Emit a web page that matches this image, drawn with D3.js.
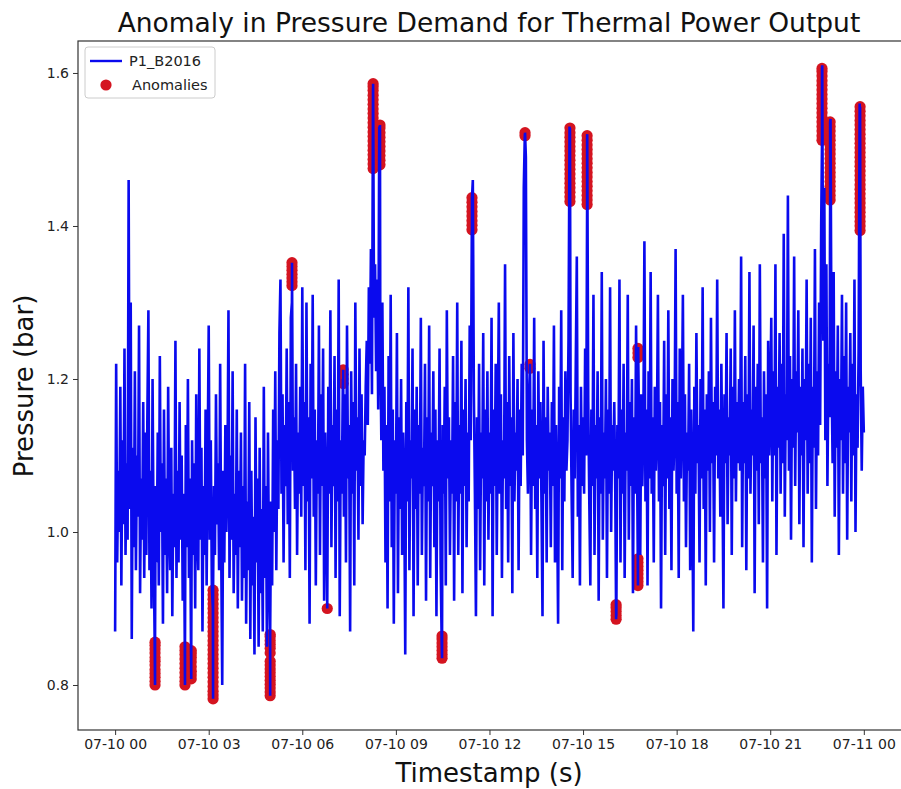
<!DOCTYPE html>
<html><head><meta charset="utf-8">
<script src="https://cdn.jsdelivr.net/npm/d3@7"></script>
<style>body{margin:0;background:#fff} svg{display:block}</style>
</head><body>
<svg id="c" width="901" height="789"></svg>
<script>
// ---- data ----
const title = "Anomaly in Pressure Demand for Thermal Power Output";
const xLabel = "Timestamp (s)";
const yLabel = "Pressure (bar)";
const seriesName = "P1_B2016";
const anomalyName = "Anomalies";
const startTime = "2024-07-10T00:00:00Z";
const stepMinutes = 2;
// pressure readings (bar), one row per hour, 2-minute sampling
const pressure = [
 0.87,1.22,0.96,1.08,1.00,1.19,0.93,1.12,1.01,1.24,0.97,1.09,0.99,1.46,1.03,1.30,0.86,1.11,0.98,1.21,0.95,1.10,1.02,1.27,0.92,1.07,0.99,1.17,0.94,1.13,
 0.97,1.15,1.29,0.95,1.08,0.90,1.20,0.99,0.86,1.06,0.96,1.13,0.93,1.23,1.00,1.09,0.88,1.16,0.97,1.07,0.92,1.19,1.01,0.95,1.11,0.89,1.05,0.98,1.25,0.94,
 1.08,0.96,1.17,0.99,1.10,0.91,1.05,0.85,1.14,0.98,1.20,0.94,1.07,0.84,1.12,0.97,1.09,0.90,1.18,1.00,0.95,1.24,0.99,1.11,0.87,1.06,0.97,1.16,0.93,1.10,
 1.27,0.99,1.12,0.93,0.90,1.06,0.97,1.18,1.01,1.09,0.95,1.22,0.98,0.80,1.08,0.96,1.14,1.00,1.07,1.29,0.94,1.10,0.99,1.21,0.92,1.05,0.97,1.16,0.90,1.08,
 0.98,1.13,0.91,1.06,0.94,1.22,0.88,1.04,0.95,1.17,0.86,1.08,0.93,1.02,0.84,1.15,0.96,1.07,0.85,1.11,0.92,1.03,0.87,1.19,0.94,1.06,0.85,1.13,0.95,0.87,
 1.04,0.93,1.16,1.00,1.21,0.95,1.12,1.03,1.26,1.33,1.05,1.18,0.96,1.14,1.06,1.24,1.01,1.17,0.94,1.28,1.30,1.08,1.15,1.03,1.22,0.97,1.13,1.05,1.19,1.02,
 1.32,1.06,1.17,0.95,1.30,1.04,1.15,0.88,1.22,1.07,1.31,1.02,1.16,0.93,1.12,1.05,1.27,0.97,1.18,1.06,1.24,0.91,1.13,1.04,0.90,1.19,1.05,1.29,0.98,1.14,
 1.06,1.23,0.94,1.16,1.04,1.33,0.89,1.12,1.05,1.20,1.02,1.18,0.96,1.27,1.07,1.14,0.87,1.21,1.05,1.17,0.93,1.30,1.08,1.15,0.99,1.24,1.06,1.18,1.01,1.12,
 1.10,1.19,1.25,1.14,1.32,1.22,1.37,1.18,1.58,1.28,1.35,1.21,1.33,1.16,1.53,1.26,1.12,1.30,1.08,1.19,0.96,1.14,0.90,1.23,1.04,1.31,0.98,1.16,0.88,1.12,
 1.05,1.26,0.92,1.15,1.03,1.20,0.97,1.13,1.06,0.84,1.17,1.04,1.32,0.95,1.12,1.07,1.24,0.89,1.16,1.03,1.19,0.93,1.14,1.05,1.28,0.97,1.11,1.06,1.22,0.91,
 1.15,1.04,1.27,0.94,1.13,1.06,1.21,0.98,1.16,0.89,1.12,1.04,1.24,0.96,0.86,1.14,1.05,1.19,0.93,1.29,1.07,1.15,0.97,1.12,1.05,1.23,0.91,1.17,1.04,1.30,
 0.97,1.14,1.05,1.25,0.92,1.16,1.06,1.20,0.98,1.13,1.04,1.27,1.12,1.39,1.46,1.18,1.05,0.89,1.15,1.03,1.22,0.95,1.13,1.07,1.26,0.93,1.16,1.04,1.21,0.99,
 1.13,1.05,1.28,0.89,1.16,1.06,1.22,0.97,1.14,1.30,1.05,1.18,0.94,1.12,1.07,1.35,1.03,1.17,0.96,1.23,1.06,1.15,0.92,1.26,1.04,1.13,1.08,1.20,0.95,1.16,
 1.06,1.22,1.10,1.45,1.52,1.49,1.12,1.05,1.18,1.22,0.97,1.16,1.06,1.28,1.03,1.14,0.94,1.21,1.07,1.17,1.04,0.89,1.25,1.05,1.15,0.96,1.19,1.08,1.13,0.98,
 1.17,1.06,1.27,0.96,1.14,1.05,0.88,1.19,1.07,1.29,0.95,1.15,1.04,1.21,1.08,1.12,1.25,1.53,1.18,1.05,0.94,1.16,1.07,1.22,1.36,1.02,1.14,0.93,1.19,1.06,
 1.15,1.05,1.24,1.10,1.52,1.17,1.04,0.93,1.16,1.06,1.31,0.97,1.14,1.07,1.21,0.91,1.15,1.05,1.34,0.99,1.13,1.07,1.20,0.94,1.16,1.05,1.32,1.00,1.14,1.08,
 1.17,1.05,0.89,1.14,1.07,1.33,0.96,1.16,1.05,1.22,0.94,1.13,1.08,1.31,0.99,1.17,1.06,1.20,0.92,1.15,1.05,1.27,1.08,1.24,1.12,0.97,1.18,1.06,1.14,1.38,
 1.04,1.16,0.93,1.21,1.07,1.34,1.05,1.15,0.96,1.19,1.08,1.13,1.31,1.04,1.17,0.90,1.14,1.06,1.25,0.97,1.18,1.07,1.29,1.03,1.15,0.95,1.20,1.08,1.13,1.37,
 1.05,1.17,0.94,1.24,1.07,1.15,1.31,1.04,1.18,0.98,1.13,1.08,1.22,0.95,1.16,1.06,0.87,1.19,1.05,1.26,1.09,1.14,0.96,1.20,1.07,1.32,1.03,1.16,0.93,1.18,
 1.08,1.21,1.00,1.28,1.09,1.17,0.96,1.19,1.10,1.33,1.07,1.16,1.02,1.22,1.08,0.90,1.18,1.09,1.26,1.01,1.15,1.10,1.24,0.97,1.19,1.07,1.29,1.04,1.17,1.09,
 1.20,1.08,1.36,0.98,1.17,1.09,1.23,0.95,1.18,1.07,1.34,1.05,1.16,1.10,1.27,0.92,1.19,1.08,1.22,1.01,1.35,1.09,1.15,0.96,1.21,1.07,1.18,0.90,1.25,1.10,
 1.16,1.28,1.04,1.21,1.10,1.35,0.97,1.19,1.11,1.26,1.05,1.22,1.09,1.39,1.02,1.18,1.12,1.44,1.08,1.23,0.99,1.20,1.11,1.36,1.06,1.21,1.13,1.29,1.01,1.19,
 1.10,1.24,0.98,1.20,1.12,1.33,1.05,1.22,1.09,1.28,0.96,1.19,1.11,1.37,1.03,1.21,1.10,1.30,1.14,1.40,1.61,1.25,1.45,1.12,1.35,1.06,1.22,1.15,1.54,1.20,
 1.09,1.34,1.02,1.21,1.11,1.27,0.97,1.20,1.12,1.31,1.05,1.23,1.09,1.30,0.99,1.19,1.13,1.26,1.04,1.22,1.10,1.33,1.00,1.18,1.11,1.24,1.56,1.21,1.08,1.19,
 1.13
];
// anomaly clusters: hours after start, and the flagged values in each
const anomalyClusterHours = [1.28, 2.24, 2.44, 3.14, 4.97, 5.67, 6.80, 7.31, 8.27, 8.49, 10.48, 11.44,
  13.14, 13.30, 14.58, 15.13, 16.06, 16.76, 16.76, 22.66, 22.92, 23.88];
const anomalyClusterValues = [
 [0.800,0.805,0.810,0.815,0.820,0.826,0.831,0.836,0.842,0.847,0.852,0.856],
 [0.800,0.805,0.810,0.816,0.822,0.828,0.834,0.840,0.845,0.850],
 [0.808,0.813,0.818,0.824,0.830,0.836,0.841,0.845],
 [0.782,0.787,0.792,0.798,0.804,0.810,0.816,0.822,0.828,0.834,0.840,0.846,0.852,0.858,0.864,0.870,0.876,0.882,0.888,0.894,0.900,0.906,0.912,0.918,0.924],
 [0.786,0.791,0.796,0.801,0.806,0.811,0.816,0.821,0.826,0.831,0.842,0.848,0.853,0.858,0.863,0.866],
 [1.322,1.327,1.332,1.337,1.342,1.347,1.352],
 [0.900],
 [1.194,1.200,1.206,1.212],
 [1.475,1.481,1.487,1.493,1.499,1.505,1.511,1.517,1.523,1.529,1.535,1.541,1.547,1.553,1.559,1.565,1.571,1.577,1.582,1.586],
 [1.480,1.486,1.492,1.498,1.504,1.510,1.516,1.522,1.528,1.532],
 [0.835,0.840,0.845,0.850,0.855,0.860,0.864],
 [1.395,1.401,1.407,1.413,1.419,1.425,1.431,1.437],
 [1.518,1.522],
 [1.214,1.219],
 [1.432,1.438,1.444,1.450,1.456,1.462,1.468,1.474,1.480,1.486,1.492,1.498,1.504,1.510,1.516,1.522,1.528],
 [1.428,1.434,1.440,1.446,1.452,1.458,1.464,1.470,1.476,1.482,1.488,1.494,1.500,1.506,1.512,1.518],
 [0.886,0.891,0.896,0.901,0.905],
 [0.930,0.935,0.940,0.945,0.950,0.955,0.960,0.965],
 [1.228,1.234,1.240],
 [1.512,1.518,1.524,1.530,1.536,1.542,1.548,1.554,1.560,1.566,1.572,1.578,1.584,1.590,1.596,1.602,1.606],
 [1.434,1.440,1.446,1.452,1.458,1.464,1.470,1.476,1.482,1.488,1.494,1.500,1.506,1.512,1.518,1.524,1.530,1.536],
 [1.394,1.400,1.406,1.412,1.418,1.424,1.430,1.436,1.442,1.448,1.454,1.460,1.466,1.472,1.478,1.484,1.490,1.496,1.502,1.508,1.514,1.520,1.526,1.532,1.538,1.544,1.550,1.556]
];
const xTickHours = [0,3,6,9,12,15,18,21,24];
const yTicks = [0.8,1.0,1.2,1.4,1.6];

// ---- build ----
const t0 = Date.parse(startTime);
const H = 3600e3;
const series = pressure.map((v,i)=>({t:new Date(t0 + i*stepMinutes*60e3), v}));
const anomalies = anomalyClusterHours.flatMap((h,c)=>anomalyClusterValues[c].map(v=>({t:new Date(t0 + h*H), v})));
const linePts = series.concat(anomalies).map((d,i)=>({...d,i}))
  .sort((a,b)=>(a.t-b.t)||(a.i-b.i));

const L=78, R=902, T=41, B=730;
const x = d3.scaleUtc().domain([new Date(t0-1.19*H), new Date(t0+25.224*H)]).range([L,R]);
const y = d3.scaleLinear().domain([0.7412,1.6418]).range([B,T]);

const svg = d3.select("#c");
const font = "DejaVu Sans, sans-serif";
const blue = "#0a0aee", red = "#d41420";

svg.append("defs").append("clipPath").attr("id","clip")
  .append("rect").attr("x",L).attr("y",T).attr("width",R-L).attr("height",B-T);

const plot = svg.append("g").attr("clip-path","url(#clip)");
plot.selectAll("circle.an").data(anomalies).join("circle")
  .attr("class","an").attr("cx",d=>x(d.t)).attr("cy",d=>y(d.v)).attr("r",5.6)
  .attr("fill",red);
plot.append("path").datum(linePts)
  .attr("d",d3.line().x(d=>x(d.t)).y(d=>y(d.v)))
  .attr("fill","none").attr("stroke",blue).attr("stroke-width",2.6)
  .attr("stroke-linejoin","miter");

// axes
const fmt = d3.utcFormat("%m-%d %H");
const gx = svg.append("g").attr("transform",`translate(0,${B})`)
  .call(d3.axisBottom(x).tickValues(xTickHours.map(h=>new Date(t0+h*H))).tickFormat(fmt)
    .tickSize(5).tickSizeOuter(0).tickPadding(4));
const gy = svg.append("g").attr("transform",`translate(${L},0)`)
  .call(d3.axisLeft(y).tickValues(yTicks).tickFormat(d3.format(".1f"))
    .tickSize(5).tickSizeOuter(0).tickPadding(4));
[gx,gy].forEach(g=>{
  g.select(".domain").remove();
  g.selectAll("line").attr("stroke","#333").attr("stroke-width",1);
  g.selectAll("text").attr("font-family",font).attr("font-size",14).attr("fill","#222");
});

svg.append("rect").attr("x",L).attr("y",T).attr("width",R-L).attr("height",B-T)
  .attr("fill","none").attr("stroke","#333").attr("stroke-width",1.2);

// title & labels
svg.append("text").attr("x",489).attr("y",32).attr("text-anchor","middle")
  .attr("font-family",font).attr("font-size",26.5).attr("fill","#111").text(title);
svg.append("text").attr("x",489).attr("y",782).attr("text-anchor","middle")
  .attr("font-family",font).attr("font-size",26).attr("fill","#111").text(xLabel);
svg.append("text").attr("transform","translate(33,386) rotate(-90)").attr("text-anchor","middle")
  .attr("font-family",font).attr("font-size",26).attr("fill","#111").text(yLabel);

// legend
const lg = svg.append("g");
lg.append("rect").attr("x",85).attr("y",47).attr("width",130).attr("height",51).attr("rx",3)
  .attr("fill","white").attr("fill-opacity",0.8).attr("stroke","#ccc");
lg.append("line").attr("x1",90).attr("x2",122).attr("y1",61).attr("y2",61)
  .attr("stroke",blue).attr("stroke-width",2.4);
lg.append("circle").attr("cx",106).attr("cy",85).attr("r",5.6).attr("fill",red);
lg.append("text").attr("x",129).attr("y",61).attr("dy","0.35em").attr("font-family",font)
  .attr("font-size",14.5).attr("fill","#222").text(seriesName);
lg.append("text").attr("x",132).attr("y",85).attr("dy","0.35em").attr("font-family",font)
  .attr("font-size",14.5).attr("fill","#222").text(anomalyName);
</script></body></html>
